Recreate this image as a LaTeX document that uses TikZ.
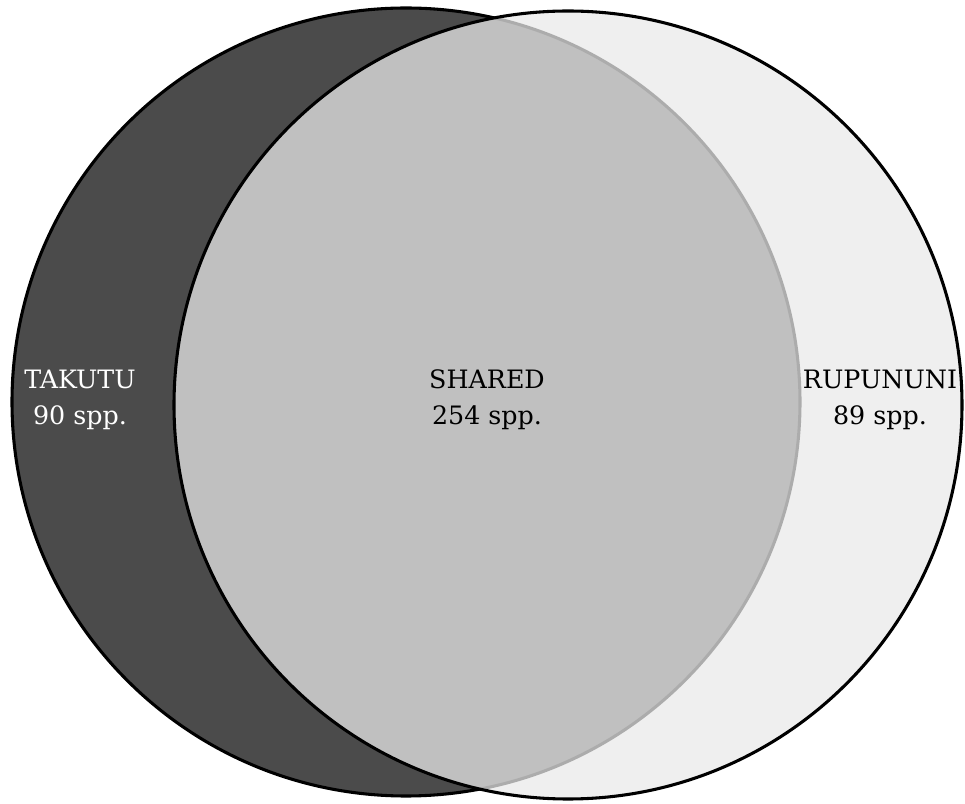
\documentclass[tikz,border=0pt]{standalone}
\usepackage{fontspec}
\setmainfont{DejaVu Serif}
\usetikzlibrary{positioning}

\definecolor{takutugray}{HTML}{4B4B4B}
\definecolor{rupugray}{HTML}{E9E9E9}

\begin{document}
\begin{tikzpicture}[x=0.75pt, y=0.75pt, set/.style={line width=2.3pt, draw=black}, label/.style={align=center, font=\fontsize{19}{27}\selectfont}]
\useasboundingbox (0,0) rectangle (965,804);
\coordinate (ctak) at (406,402);
\coordinate (crup) at (568,399);
    \path[set, fill=takutugray] (ctak) circle [radius=394];
    \path[set, fill=rupugray, fill opacity=0.74] (crup) circle [radius=394];
\path
    node[label, text=white] (takutu) at (80,404) {TAKUTU\\90 spp.}
    node[label] (shared) at (487,404) {SHARED\\254 spp.}
    node[label] (rupununi) at (880,404) {RUPUNUNI\\89 spp.};
\end{tikzpicture}
\end{document}
